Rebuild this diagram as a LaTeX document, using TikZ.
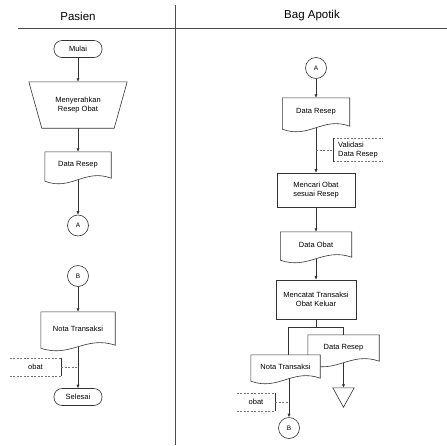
\documentclass[tikz,border=0pt]{standalone}
\usepackage{fontspec}
\setmainfont{Liberation Sans}
\usetikzlibrary{calc,arrows.meta,backgrounds}
\newcommand\docwave[1]{%
  \begin{pgfonlayer}{background}
  \draw[shapeline, fill=white] (#1.south west) -- (#1.north west) -- (#1.north east) -- (#1.south east)
    .. controls ($(#1.south west)!0.6!(#1.south east)+(0,-10)$) and ($(#1.south west)!0.4!(#1.south east)+(0,13)$) .. ($(#1.south west)+(0,3)$) -- cycle;
  \end{pgfonlayer}}
\newcommand\annbracket[2]{% #1 node, #2 = east or west side solid
  \draw[annline] (#1.north west) -- (#1.north east);
  \draw[annline] (#1.south west) -- (#1.south east);
  \draw[shapeline] (#1.north #2) -- (#1.south #2);}
\tikzset{
  shapeline/.style={draw=black!80, line width=0.6pt},
  txt/.style={font=\fontsize{7.5}{8.5}\selectfont, align=center, inner sep=0pt},
  docbox/.style={txt, minimum width=#1pt},
  procbox/.style={txt, shapeline, rectangle},
  termbox/.style={txt, shapeline, rectangle, rounded corners=8pt, minimum width=48pt, minimum height=17pt},
  conn/.style={txt, shapeline, circle, minimum size=21pt, font=\fontsize{6.5}{7}\selectfont},
  arr/.style={shapeline, -{Latex[length=3.5pt,width=3.2pt]}},
  plain/.style={shapeline},
  annline/.style={draw=black!55, line width=0.5pt, dashed, dash pattern=on 2pt off 1.5pt},
  anntxt/.style={txt},
  hdr/.style={draw=black!70, line width=0.9pt},
  hdrtxt/.style={font=\fontsize{11.5}{13}\selectfont, inner sep=0pt}
}
\begin{document}
\begin{tikzpicture}[x=1pt,y=-1pt]
\useasboundingbox (0,0) rectangle (447,445);
\begin{pgfonlayer}{background}
\fill[white] (0,0) rectangle (447,445);
\end{pgfonlayer}
% header
\node[hdrtxt] (h1) at (78,16) {Pasien};
\node[hdrtxt] (h2) at (312,16) {Bag Apotik};
\draw[hdr] (18,28) -- (447,28);
\draw[hdr] (175,5) -- (175,445);

% ---------- Pasien ----------
\node[termbox] (mulai) at (78,49) {Mulai};
\node[txt, minimum width=98pt, minimum height=46pt] (man) at (78,105) {Menyerahkan\\Resep Obat};
\draw[shapeline] (man.north west) -- (man.north east) -- ($(man.south east)+(-13,0)$) -- ($(man.south west)+(13,0)$) -- cycle;
\node[docbox=66, minimum height=26pt] (doc1) at (78,165) {Data Resep};
\docwave{doc1}
\node[conn] (ca1) at (78,225.5) {A};
\draw[arr] (mulai) -- (man);
\draw[arr] (man) -- (doc1);
\draw[arr] ([yshift=-2pt]doc1.south) -- (ca1);

\node[conn] (cb1) at (78,276) {B};
\node[docbox=74, minimum height=33pt] (doc2) at (78,328.5) {Nota Transaksi};
\docwave{doc2}
\node[termbox] (sel) at (78,397) {Selesai};
\node[anntxt, minimum width=51pt, minimum height=18pt] (ann1) at (35.5,367) {obat};
\annbracket{ann1}{east}
\coordinate (j1) at (78,367);
\draw[arr] (cb1) -- (doc2);
\draw[arr] ([yshift=-2pt]doc2.south) -- (sel);
\draw[annline] (ann1.east) -- (j1);

% ---------- Bag Apotik ----------
\node[conn] (ca2) at (316,68) {A};
\node[docbox=67, minimum height=28pt] (doc3) at (316,112) {Data Resep};
\docwave{doc3}
\node[procbox, minimum width=78pt, minimum height=34pt] (proc1) at (316,190) {Mencari Obat\\sesuai Resep};
\node[anntxt, align=left, anchor=west, minimum height=23pt, inner xsep=5pt] (ann2) at (333,150) {Validasi\\Data Resep};
\annbracket{ann2}{west}
\coordinate (j2) at (316,150);
\draw[arr] (ca2) -- (doc3);
\draw[arr] ([yshift=-2pt]doc3.south) -- (proc1);
\draw[annline] (j2) -- (ann2.west);

\node[docbox=71, minimum height=25pt] (doc4) at (316,244.5) {Data Obat};
\docwave{doc4}
\node[procbox, minimum width=80pt, minimum height=39pt] (proc2) at (316,299.5) {Mencatat Transaksi\\Obat Keluar};
\draw[arr] (proc1) -- (doc4);
\draw[arr] ([yshift=-2pt]doc4.south) -- (proc2);

\node[docbox=71, minimum height=26pt] (doc5) at (343.5,348) {Data Resep};
\docwave{doc5}
\node[docbox=69, minimum height=23pt] (doc6) at (285.5,366.5) {Nota Transaksi};
\docwave{doc6}
\coordinate (sp1) at (288,327);
\coordinate (sp2) at (343.5,327);
\draw[plain] (proc2.south) -- (proc2.south |- sp1);
\draw[plain] (sp1) -- (sp2);
\draw[plain] (sp1) -- (sp1 |- doc6.north);
\draw[plain] (sp2) -- (sp2 |- doc5.north);

\node[txt, minimum width=21pt, minimum height=19pt] (st) at (343.5,397.5) {};
\draw[shapeline] (st.north west) -- (st.north east) -- (st.south) -- cycle;
\draw[arr] ([yshift=-2pt]doc5.south) -- (st.north);

\node[conn] (cb2) at (289,428) {B};
\node[anntxt, minimum width=38pt, minimum height=18pt] (ann3) at (256,402) {obat};
\annbracket{ann3}{east}
\coordinate (j3) at (289,402);
\draw[arr] (cb2 |- doc6.south) -- (cb2);
\draw[annline] (ann3.east) -- (j3);
\end{tikzpicture}
\end{document}
